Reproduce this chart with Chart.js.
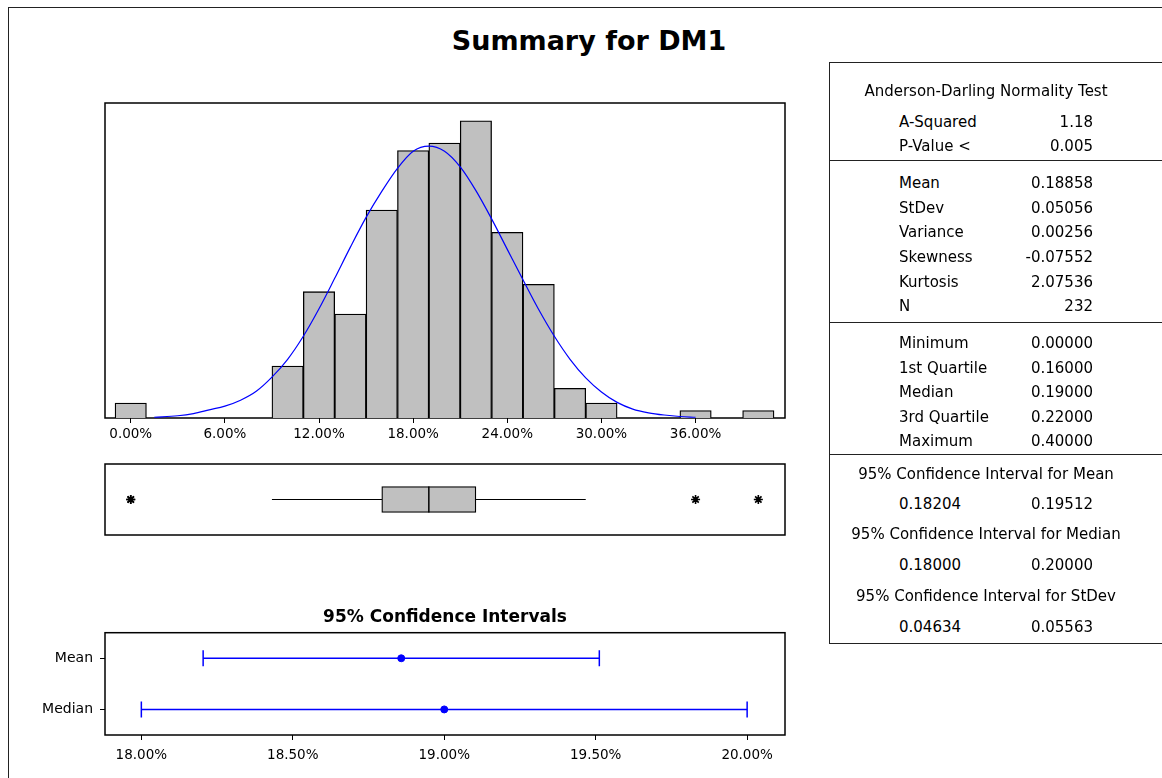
<!DOCTYPE html>
<html>
<head>
<meta charset="utf-8">
<title>Summary for DM1</title>
<script src="https://cdn.jsdelivr.net/npm/chart.js@4.4.1/dist/chart.umd.min.js"></script>
<style>
  html, body { margin:0; padding:0; background:#fff; }
  body { width:1162px; height:778px; position:relative; overflow:hidden; font-family:"DejaVu Sans", sans-serif; color:#000; }
  .outer { position:absolute; left:8px; top:7px; width:1300px; height:900px; border-left:1.5px solid #222; border-top:1.5px solid #222; }
  canvas { position:absolute; }
  #title { position:absolute; left:0; width:1178px; top:25px; line-height:31px; text-align:center; font-weight:bold; font-size:27px; }
  #stats { position:absolute; left:829px; top:62px; width:400px; height:580px; border-left:1.5px solid #222; border-top:1.5px solid #222; border-bottom:1.5px solid #222; }
  .t { position:absolute; font-size:15px; line-height:18px; white-space:nowrap; }
  .rule { position:absolute; left:0; width:400px; height:0; border-top:1.5px solid #222; }
</style>
</head>
<body>
<div class="outer"></div>
<div id="title">Summary for DM1</div>
<canvas id="hist" width="700" height="365" style="left:95px; top:93px;"></canvas>
<canvas id="box" width="700" height="91" style="left:95px; top:454px;"></canvas>
<canvas id="ci" width="780" height="175" style="left:20px; top:600px;"></canvas>
<div id="stats"></div>
<script>
// histogram (values in %)
const binCenters = [0, 10, 12, 14, 16, 18, 20, 22, 24, 26, 28, 30, 36, 40];
const binCounts  = [2, 7, 17, 14, 28, 36, 37, 40, 25, 18, 4, 2, 1, 1];
const histTicks  = [0, 6, 12, 18, 24, 30, 36];

// fitted normal curve
const curveX = [1.5, 3, 4, 5, 6, 7, 8, 9, 10, 11, 12, 13, 14, 15, 16, 17, 18, 19, 20, 21, 22, 23, 24, 25, 26, 27, 28, 29, 30, 31, 32, 33, 34, 35, 36];
const curveY = [0.1, 0.3, 0.6, 1.1, 1.6, 2.4, 3.6, 5.5, 7.9, 11.0, 14.7, 18.8, 23.0, 27.0, 30.5, 33.6, 35.9, 36.6, 35.9, 33.8, 30.6, 26.8, 22.7, 18.6, 14.6, 11.0, 7.9, 5.4, 3.5, 2.1, 1.2, 0.7, 0.4, 0.2, 0.1];

// boxplot (in %)
const boxQuartiles = [16, 19, 22];
const boxWhiskers  = [9, 29];
const boxOutliers  = [0, 0, 36, 40];

// confidence intervals plot (in %)
const ciRows   = ['Mean', 'Median'];
const ciCenter = [18.858, 19.0];
const ciLow    = [18.204, 18.0];
const ciHigh   = [19.512, 20.0];
const ciTicks  = [18, 18.5, 19, 19.5, 20];

// stats table
const adLabels = ['A-Squared', 'P-Value <'];
const adValues = ['1.18', '0.005'];
const momentLabels = ['Mean', 'StDev', 'Variance', 'Skewness', 'Kurtosis', 'N'];
const momentValues = ['0.18858', '0.05056', '0.00256', '-0.07552', '2.07536', '232'];
const quantLabels = ['Minimum', '1st Quartile', 'Median', '3rd Quartile', 'Maximum'];
const quantValues = ['0.00000', '0.16000', '0.19000', '0.22000', '0.40000'];
const intervalTitles = ['95% Confidence Interval for Mean', '95% Confidence Interval for Median', '95% Confidence Interval for StDev'];
const intervalLow  = ['0.18204', '0.18000', '0.04634'];
const intervalHigh = ['0.19512', '0.20000', '0.05563'];

const FONT = 'DejaVu Sans';
const BLUE = '#0000ff';
const GRAY = '#c0c0c0';
const xMin = -1.64, xMax = 41.7;
const pct = v => v.toFixed(2) + '%';

const framePlugin = {
  id: 'frame',
  beforeDatasetsDraw(chart) {
    const { ctx, chartArea: a } = chart;
    ctx.save();
    ctx.strokeStyle = '#000';
    ctx.lineWidth = 1.5;
    ctx.strokeRect(a.left, a.top, a.right - a.left, a.bottom - a.top);
    ctx.restore();
  }
};

const base = {
  responsive: false,
  animation: false,
  devicePixelRatio: 1,
  plugins: { legend: { display: false }, tooltip: { enabled: false } }
};

// Histogram with normal curve
new Chart(document.getElementById('hist'), {
  type: 'bar',
  data: {
    datasets: [
      { type: 'line', data: curveX.map((x, i) => ({ x, y: curveY[i] })), borderColor: BLUE, borderWidth: 1.2,
        pointRadius: 0, cubicInterpolationMode: 'monotone', order: 0 },
      { type: 'bar', data: binCenters.map((x, i) => ({ x, y: binCounts[i] })), backgroundColor: GRAY,
        borderColor: '#000', borderWidth: 1.3, barPercentage: 1, categoryPercentage: 1, order: 1 }
    ]
  },
  options: {
    ...base,
    layout: { autoPadding: false, padding: { left: 10, right: 10, top: 10, bottom: 0 } },
    scales: {
      x: {
        type: 'linear', min: xMin, max: xMax, offset: false,
        afterBuildTicks: s => { s.ticks = histTicks.map(v => ({ value: v })); },
        afterFit: s => { s.height = 40; },
        grid: { drawOnChartArea: false, offset: false, tickLength: 5, color: '#000' },
        border: { display: false },
        ticks: { color: '#000', padding: 3, autoSkip: false, maxRotation: 0, font: { family: FONT, size: 13.5 }, callback: pct }
      },
      y: { display: false, min: 0, max: 42.4 }
    }
  },
  plugins: [framePlugin]
});

// Boxplot
new Chart(document.getElementById('box'), {
  type: 'scatter',
  data: {
    datasets: [
      { type: 'line', data: boxWhiskers.map(x => ({ x, y: 0.5 })), borderColor: '#000', borderWidth: 1.2,
        pointRadius: 0, showLine: true, order: 3 },
      { type: 'bar', indexAxis: 'y', data: [{ x: [boxQuartiles[0], boxQuartiles[2]], y: 0.5 }],
        backgroundColor: GRAY, borderColor: '#000', borderWidth: 1.3, borderSkipped: false, barThickness: 26, order: 2 },
      { type: 'scatter', data: [{ x: boxQuartiles[1], y: 0.5 }], pointStyle: 'line', rotation: 90,
        radius: 13, borderColor: '#000', borderWidth: 1.5, order: 1 },
      { type: 'scatter', data: boxOutliers.map(x => ({ x, y: 0.5 })), pointStyle: 'star',
        radius: 4.5, borderColor: '#000', borderWidth: 1.6, order: 0 }
    ]
  },
  options: {
    ...base,
    layout: { autoPadding: false, padding: { left: 10, right: 10, top: 10, bottom: 10 } },
    scales: {
      x: { type: 'linear', display: false, min: xMin, max: xMax, offset: false },
      y: { type: 'linear', display: false, min: 0, max: 1, offset: false }
    }
  },
  plugins: [framePlugin]
});

// 95% confidence intervals
const ciSets = ciRows.map((r, i) => ({
  data: [{ x: ciLow[i], y: r }, { x: ciHigh[i], y: r }],
  borderColor: BLUE, borderWidth: 1.5,
  pointStyle: 'line', pointRotation: 90, pointRadius: 8, pointBorderColor: BLUE, pointBorderWidth: 1.5
}));
ciSets.push({
  data: ciRows.map((r, i) => ({ x: ciCenter[i], y: r })),
  showLine: false, pointStyle: 'circle', pointRadius: 3.5,
  pointBackgroundColor: BLUE, pointBorderColor: BLUE, pointBorderWidth: 1
});

new Chart(document.getElementById('ci'), {
  type: 'line',
  data: { datasets: ciSets },
  options: {
    ...base,
    layout: { autoPadding: false, padding: { left: 0, right: 15, top: 0, bottom: 0 } },
    plugins: {
      ...base.plugins,
      title: { display: true, text: '95% Confidence Intervals', color: '#000', fullSize: false,
               font: { family: FONT, size: 17, weight: 'bold' }, padding: { top: 7.5, bottom: 4.8 } }
    },
    scales: {
      x: {
        type: 'linear', min: 17.88, max: 20.125,
        afterBuildTicks: s => { s.ticks = ciTicks.map(v => ({ value: v })); },
        afterFit: s => { s.height = 40; },
        grid: { drawOnChartArea: false, tickLength: 5, color: '#000' },
        border: { display: false },
        ticks: { color: '#000', padding: 7, autoSkip: false, maxRotation: 0, font: { family: FONT, size: 13.5 }, callback: pct }
      },
      y: {
        type: 'category', labels: ciRows, offset: true,
        afterFit: s => { s.width = 85; },
        grid: { drawOnChartArea: false, tickLength: 5, color: '#000' },
        border: { display: false },
        ticks: { color: '#000', padding: 7, font: { family: FONT, size: 14 } }
      }
    }
  },
  plugins: [framePlugin]
});

// Stats table (text positions relative to the box at 829,62)
const stats = document.getElementById('stats');
const LX = 898 - 829, RX = 1092 - 829, CX = 985 - 829, T0 = 62;
function put(txt, x, yc, align) {
  const d = document.createElement('div');
  d.className = 't';
  d.textContent = txt;
  d.style.top = (yc - T0 - 9) + 'px';
  if (align === 'left') { d.style.left = x + 'px'; }
  else if (align === 'right') { d.style.left = (x - 300) + 'px'; d.style.width = '300px'; d.style.textAlign = 'right'; }
  else { d.style.left = (x - 200) + 'px'; d.style.width = '400px'; d.style.textAlign = 'center'; }
  stats.appendChild(d);
}
function rule(y) {
  const d = document.createElement('div');
  d.className = 'rule';
  d.style.top = (y - T0) + 'px';
  stats.appendChild(d);
}

put('Anderson-Darling Normality Test', CX, 89.5, 'center');
[121, 145].forEach((y, i) => { put(adLabels[i], LX, y, 'left'); put(adValues[i], RX, y, 'right'); });
rule(159);
[182, 206.5, 231, 256, 281, 305].forEach((y, i) => { put(momentLabels[i], LX, y, 'left'); put(momentValues[i], RX, y, 'right'); });
rule(320.5);
[342, 366.5, 391, 416, 440].forEach((y, i) => { put(quantLabels[i], LX, y, 'left'); put(quantValues[i], RX, y, 'right'); });
rule(453);
[[472.5, 502.5], [533, 563.5], [595, 625.5]].forEach(([yh, yv], i) => {
  put(intervalTitles[i], CX, yh, 'center');
  put(intervalLow[i], LX, yv, 'left');
  put(intervalHigh[i], RX, yv, 'right');
});
</script>
</body>
</html>
